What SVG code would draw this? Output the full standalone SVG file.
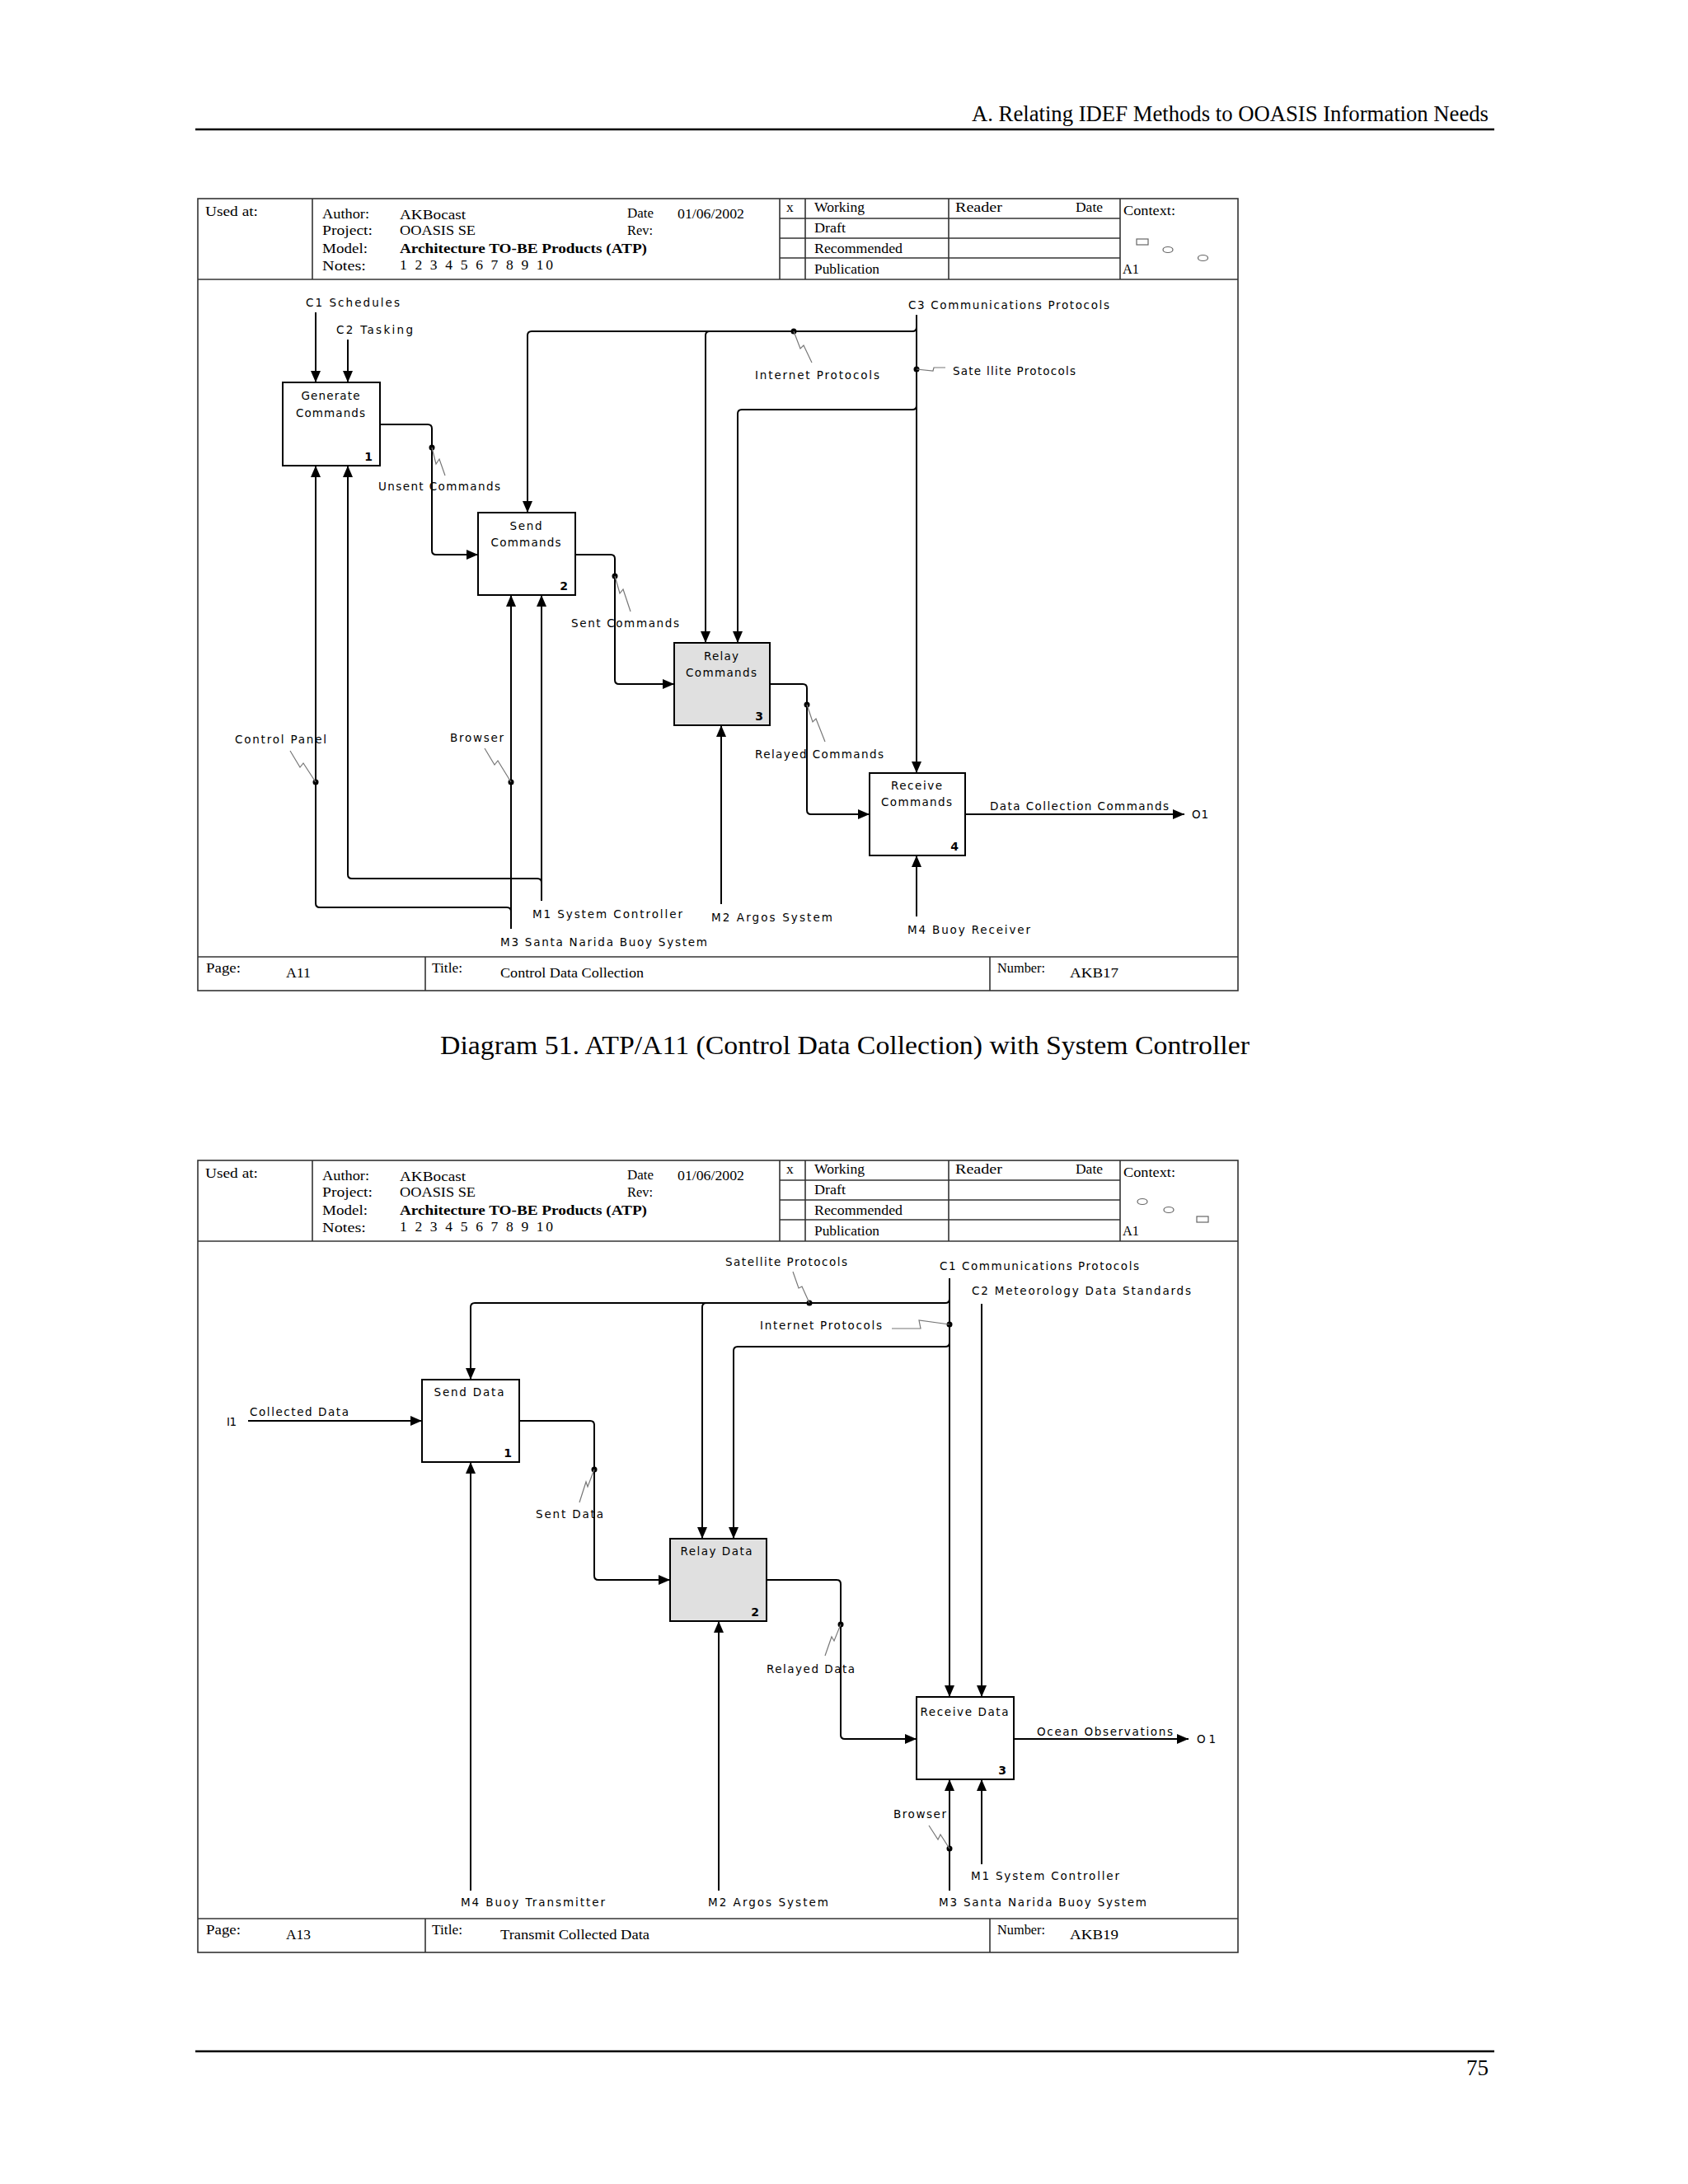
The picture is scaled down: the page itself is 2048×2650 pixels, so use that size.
<svg xmlns="http://www.w3.org/2000/svg" width="2048" height="2650" viewBox="0 0 2048 2650">
<style>
.page{fill:#fff}
.rule{stroke:#000;stroke-width:2.5}
.frame{fill:none;stroke:#333;stroke-width:1.6}
.hdr{font-family:"Liberation Serif","Times New Roman",serif;font-size:17.5px;fill:#000}
.hdrb{font-family:"Liberation Serif","Times New Roman",serif;font-size:17.5px;font-weight:bold;fill:#000}
.big{font-family:"Liberation Serif","Times New Roman",serif;font-size:27px;fill:#000}
.cap{font-family:"Liberation Serif","Times New Roman",serif;font-size:31px;fill:#000}
.lbl{font-family:"DejaVu Sans",Verdana,sans-serif;font-size:13.5px;fill:#000}
.ttl{font-family:"DejaVu Sans",Verdana,sans-serif;font-size:13.5px;fill:#000;text-anchor:middle}
.num{font-family:"DejaVu Sans",Verdana,sans-serif;font-size:14px;font-weight:bold;fill:#000;text-anchor:end}
.box{fill:#fff;stroke:#000;stroke-width:2}
.gray{fill:#e0e0e0;stroke:#000;stroke-width:2}
.conn{fill:none;stroke:#000;stroke-width:2;marker-end:url(#arr)}
.sq{fill:none;stroke:#777;stroke-width:1.2}
.dot{fill:#000}
.ctx{fill:#fff;stroke:#666;stroke-width:1.2}
</style>
<defs>
<marker id="arr" markerUnits="userSpaceOnUse" markerWidth="14" markerHeight="12" refX="14" refY="6" orient="auto">
<path d="M0,0 L14,6 L0,12 z" fill="#000"/>
</marker>
</defs>
<rect class="page" x="0" y="0" width="2048" height="2650"/>

<g id="page-header">
<text class="big" x="1806" y="147" text-anchor="end" textLength="627" lengthAdjust="spacingAndGlyphs">A. Relating IDEF Methods to OOASIS Information Needs</text>
<line class="rule" x1="237" y1="157" x2="1813" y2="157"/>
</g>
<g id="page-footer">
<line class="rule" x1="237" y1="2489" x2="1813" y2="2489"/>
<text class="big" x="1806" y="2518" text-anchor="end">75</text>
</g>
<g id="caption">
<text class="cap" x="534" y="1279" textLength="982" lengthAdjust="spacingAndGlyphs">Diagram 51. ATP/A11 (Control Data Collection) with System Controller</text>
</g>

<!-- ================= FRAME 1 ================= -->
<g id="frame1">
<rect class="frame" x="240" y="241" width="1262" height="961"/>
<line class="frame" x1="240" y1="339" x2="1502" y2="339"/>
<line class="frame" x1="240" y1="1161" x2="1502" y2="1161"/>
<line class="frame" x1="379" y1="241" x2="379" y2="339"/>
<line class="frame" x1="946" y1="241" x2="946" y2="339"/>
<line class="frame" x1="977" y1="241" x2="977" y2="339"/>
<line class="frame" x1="1151" y1="241" x2="1151" y2="339"/>
<line class="frame" x1="1359" y1="241" x2="1359" y2="339"/>
<line class="frame" x1="946" y1="265" x2="1359" y2="265"/>
<line class="frame" x1="946" y1="289" x2="1359" y2="289"/>
<line class="frame" x1="946" y1="313" x2="1359" y2="313"/>
<line class="frame" x1="516" y1="1161" x2="516" y2="1202"/>
<line class="frame" x1="1201" y1="1161" x2="1201" y2="1202"/>
<text class="hdr" x="249" y="262" textLength="64" lengthAdjust="spacingAndGlyphs">Used at:</text>
<text class="hdr" x="391" y="265" textLength="57" lengthAdjust="spacingAndGlyphs">Author:</text>
<text class="hdr" x="391" y="285" textLength="61" lengthAdjust="spacingAndGlyphs">Project:</text>
<text class="hdr" x="391" y="307" textLength="55" lengthAdjust="spacingAndGlyphs">Model:</text>
<text class="hdr" x="391" y="328" textLength="53" lengthAdjust="spacingAndGlyphs">Notes:</text>
<text class="hdr" x="485" y="266" textLength="80" lengthAdjust="spacingAndGlyphs">AKBocast</text>
<text class="hdr" x="485" y="285" textLength="92" lengthAdjust="spacingAndGlyphs">OOASIS SE</text>
<text class="hdrb" x="485" y="307" textLength="300" lengthAdjust="spacingAndGlyphs">Architecture TO-BE Products (ATP)</text>
<text class="hdr" x="485" y="327" textLength="186" lengthAdjust="spacing">1 2 3 4 5 6 7 8 9 10</text>
<text class="hdr" x="761" y="264" textLength="32" lengthAdjust="spacingAndGlyphs">Date</text>
<text class="hdr" x="822" y="265" textLength="81" lengthAdjust="spacingAndGlyphs">01/06/2002</text>
<text class="hdr" x="761" y="285" textLength="31" lengthAdjust="spacingAndGlyphs">Rev:</text>
<text class="hdr" x="954" y="257">x</text>
<text class="hdr" x="988" y="257" textLength="61" lengthAdjust="spacingAndGlyphs">Working</text>
<text class="hdr" x="988" y="282" textLength="38" lengthAdjust="spacingAndGlyphs">Draft</text>
<text class="hdr" x="988" y="307" textLength="107" lengthAdjust="spacingAndGlyphs">Recommended</text>
<text class="hdr" x="988" y="332" textLength="79" lengthAdjust="spacingAndGlyphs">Publication</text>
<text class="hdr" x="1159" y="257" textLength="57" lengthAdjust="spacingAndGlyphs">Reader</text>
<text class="hdr" x="1305" y="257" textLength="33" lengthAdjust="spacingAndGlyphs">Date</text>
<text class="hdr" x="1363" y="261" textLength="63" lengthAdjust="spacingAndGlyphs">Context:</text>
<rect class="ctx" x="1379" y="290" width="14" height="7"/>
<ellipse class="ctx" cx="1417" cy="303" rx="6" ry="3.5"/>
<ellipse class="ctx" cx="1459.5" cy="313" rx="6" ry="3.5"/>
<text class="hdr" x="1362" y="332" textLength="20" lengthAdjust="spacingAndGlyphs">A1</text>
<text class="hdr" x="250" y="1180" textLength="42" lengthAdjust="spacingAndGlyphs">Page:</text>
<text class="hdr" x="347" y="1186" textLength="30" lengthAdjust="spacingAndGlyphs">A11</text>
<text class="hdr" x="524" y="1180" textLength="37" lengthAdjust="spacingAndGlyphs">Title:</text>
<text class="hdr" x="607" y="1186" textLength="174" lengthAdjust="spacingAndGlyphs">Control Data Collection</text>
<text class="hdr" x="1210" y="1180" textLength="58" lengthAdjust="spacingAndGlyphs">Number:</text>
<text class="hdr" x="1298" y="1186" textLength="59" lengthAdjust="spacingAndGlyphs">AKB17</text>
</g>

<g id="d1-connectors">
<path class="conn" d="M383,379 V464"/>
<path class="conn" d="M422,412 V464"/>
<path class="conn" d="M461,515 H519 Q524,515 524,520 V668 Q524,673 529,673 H580"/>
<path class="conn" d="M698,673 H741 Q746,673 746,678 V825 Q746,830 751,830 H818"/>
<path class="conn" d="M934,830 H974 Q979,830 979,835 V983 Q979,988 984,988 H1055"/>
<path class="conn" d="M1112,382 V938"/>
<path class="conn" d="M1112,397 Q1112,402 1107,402 H645 Q640,402 640,407 V622"/>
<path class="conn" d="M861,402 Q856,402 856,407 V780"/>
<path class="conn" d="M1112,492 Q1112,497 1107,497 H900 Q895,497 895,502 V780"/>
<path class="conn" d="M1171,988 H1437"/>
<path class="conn" d="M1112,1112 V1038"/>
<path class="conn" d="M875,1097 V880"/>
<path class="conn" d="M657,1093 V722"/>
<path class="conn" d="M657,1071 Q657,1066 652,1066 H427 Q422,1066 422,1061 V565"/>
<path class="conn" d="M620,1127 V722"/>
<path class="conn" d="M620,1106 Q620,1101 615,1101 H388 Q383,1101 383,1096 V565"/>
<circle class="dot" cx="524" cy="543" r="3.5"/>
<circle class="dot" cx="746" cy="699" r="3.5"/>
<circle class="dot" cx="979" cy="855" r="3.5"/>
<circle class="dot" cx="963" cy="402" r="3.5"/>
<circle class="dot" cx="1112" cy="448" r="3.5"/>
<circle class="dot" cx="383" cy="949" r="3.5"/>
<circle class="dot" cx="620" cy="949" r="3.5"/>
<polyline class="sq" points="524,543 529,563 533,557 540,577"/>
<polyline class="sq" points="746,699 752,720 756,715 765,742"/>
<polyline class="sq" points="979,855 986,876 990,872 1001,900"/>
<polyline class="sq" points="963,402 971,423 975,419 985,440"/>
<polyline class="sq" points="1112,448 1132,450 1133,446 1147,446"/>
<polyline class="sq" points="352,911 364,931 368,926 383,949"/>
<polyline class="sq" points="588,908 600,928 604,923 620,949"/>
<text class="lbl" x="371" y="372" textLength="114" lengthAdjust="spacing">C1 Schedules</text>
<text class="lbl" x="408" y="405" textLength="93" lengthAdjust="spacing">C2 Tasking</text>
<text class="lbl" x="459" y="595" textLength="148" lengthAdjust="spacing">Unsent Commands</text>
<text class="lbl" x="693" y="761" textLength="131" lengthAdjust="spacing">Sent Commands</text>
<text class="lbl" x="916" y="460" textLength="151" lengthAdjust="spacing">Internet Protocols</text>
<text class="lbl" x="1156" y="455" textLength="149" lengthAdjust="spacing">Sate llite Protocols</text>
<text class="lbl" x="1102" y="375" textLength="244" lengthAdjust="spacing">C3 Communications Protocols</text>
<text class="lbl" x="916" y="920" textLength="156" lengthAdjust="spacing">Relayed Commands</text>
<text class="lbl" x="1201" y="983" textLength="217" lengthAdjust="spacing">Data Collection Commands</text>
<text class="lbl" x="1446" y="993" textLength="20" lengthAdjust="spacing">O1</text>
<text class="lbl" x="285" y="902" textLength="111" lengthAdjust="spacing">Control Panel</text>
<text class="lbl" x="546" y="900" textLength="65" lengthAdjust="spacing">Browser</text>
<text class="lbl" x="646" y="1114" textLength="182" lengthAdjust="spacing">M1 System Controller</text>
<text class="lbl" x="863" y="1118" textLength="147" lengthAdjust="spacing">M2 Argos System</text>
<text class="lbl" x="1101" y="1133" textLength="149" lengthAdjust="spacing">M4 Buoy Receiver</text>
<text class="lbl" x="607" y="1148" textLength="251" lengthAdjust="spacing">M3 Santa Narida Buoy System</text>
</g>

<g id="d1-node1">
<rect class="box" x="343" y="464" width="118" height="101"/>
<text class="ttl" x="401" y="485" textLength="71" lengthAdjust="spacing">Generate</text>
<text class="ttl" x="401" y="506" textLength="84" lengthAdjust="spacing">Commands</text>
<text class="num" x="452" y="559">1</text>
</g>
<g id="d1-node2">
<rect class="box" x="580" y="622" width="118" height="100"/>
<text class="ttl" x="638" y="643" textLength="39" lengthAdjust="spacing">Send</text>
<text class="ttl" x="638" y="663" textLength="85" lengthAdjust="spacing">Commands</text>
<text class="num" x="689" y="716">2</text>
</g>
<g id="d1-node3">
<rect class="gray" x="818" y="780" width="116" height="100"/>
<text class="ttl" x="875" y="801" textLength="42" lengthAdjust="spacing">Relay</text>
<text class="ttl" x="875" y="821" textLength="86" lengthAdjust="spacing">Commands</text>
<text class="num" x="926" y="874">3</text>
</g>
<g id="d1-node4">
<rect class="box" x="1055" y="938" width="116" height="100"/>
<text class="ttl" x="1112" y="958" textLength="62" lengthAdjust="spacing">Receive</text>
<text class="ttl" x="1112" y="978" textLength="86" lengthAdjust="spacing">Commands</text>
<text class="num" x="1163" y="1032">4</text>
</g>

<!-- ================= FRAME 2 ================= -->
<g id="frame2">
<rect class="frame" x="240" y="1408" width="1262" height="961"/>
<line class="frame" x1="240" y1="1506" x2="1502" y2="1506"/>
<line class="frame" x1="240" y1="2328" x2="1502" y2="2328"/>
<line class="frame" x1="379" y1="1408" x2="379" y2="1506"/>
<line class="frame" x1="946" y1="1408" x2="946" y2="1506"/>
<line class="frame" x1="977" y1="1408" x2="977" y2="1506"/>
<line class="frame" x1="1151" y1="1408" x2="1151" y2="1506"/>
<line class="frame" x1="1359" y1="1408" x2="1359" y2="1506"/>
<line class="frame" x1="946" y1="1432" x2="1359" y2="1432"/>
<line class="frame" x1="946" y1="1456" x2="1359" y2="1456"/>
<line class="frame" x1="946" y1="1480" x2="1359" y2="1480"/>
<line class="frame" x1="516" y1="2328" x2="516" y2="2369"/>
<line class="frame" x1="1201" y1="2328" x2="1201" y2="2369"/>
<text class="hdr" x="249" y="1429" textLength="64" lengthAdjust="spacingAndGlyphs">Used at:</text>
<text class="hdr" x="391" y="1432" textLength="57" lengthAdjust="spacingAndGlyphs">Author:</text>
<text class="hdr" x="391" y="1452" textLength="61" lengthAdjust="spacingAndGlyphs">Project:</text>
<text class="hdr" x="391" y="1474" textLength="55" lengthAdjust="spacingAndGlyphs">Model:</text>
<text class="hdr" x="391" y="1495" textLength="53" lengthAdjust="spacingAndGlyphs">Notes:</text>
<text class="hdr" x="485" y="1433" textLength="80" lengthAdjust="spacingAndGlyphs">AKBocast</text>
<text class="hdr" x="485" y="1452" textLength="92" lengthAdjust="spacingAndGlyphs">OOASIS SE</text>
<text class="hdrb" x="485" y="1474" textLength="300" lengthAdjust="spacingAndGlyphs">Architecture TO-BE Products (ATP)</text>
<text class="hdr" x="485" y="1494" textLength="186" lengthAdjust="spacing">1 2 3 4 5 6 7 8 9 10</text>
<text class="hdr" x="761" y="1431" textLength="32" lengthAdjust="spacingAndGlyphs">Date</text>
<text class="hdr" x="822" y="1432" textLength="81" lengthAdjust="spacingAndGlyphs">01/06/2002</text>
<text class="hdr" x="761" y="1452" textLength="31" lengthAdjust="spacingAndGlyphs">Rev:</text>
<text class="hdr" x="954" y="1424">x</text>
<text class="hdr" x="988" y="1424" textLength="61" lengthAdjust="spacingAndGlyphs">Working</text>
<text class="hdr" x="988" y="1449" textLength="38" lengthAdjust="spacingAndGlyphs">Draft</text>
<text class="hdr" x="988" y="1474" textLength="107" lengthAdjust="spacingAndGlyphs">Recommended</text>
<text class="hdr" x="988" y="1499" textLength="79" lengthAdjust="spacingAndGlyphs">Publication</text>
<text class="hdr" x="1159" y="1424" textLength="57" lengthAdjust="spacingAndGlyphs">Reader</text>
<text class="hdr" x="1305" y="1424" textLength="33" lengthAdjust="spacingAndGlyphs">Date</text>
<text class="hdr" x="1363" y="1428" textLength="63" lengthAdjust="spacingAndGlyphs">Context:</text>
<ellipse class="ctx" cx="1386" cy="1458" rx="6" ry="3.5"/>
<ellipse class="ctx" cx="1418" cy="1468" rx="6" ry="3.5"/>
<rect class="ctx" x="1452" y="1476" width="14" height="7"/>
<text class="hdr" x="1362" y="1499" textLength="20" lengthAdjust="spacingAndGlyphs">A1</text>
<text class="hdr" x="250" y="2347" textLength="42" lengthAdjust="spacingAndGlyphs">Page:</text>
<text class="hdr" x="347" y="2353" textLength="30" lengthAdjust="spacingAndGlyphs">A13</text>
<text class="hdr" x="524" y="2347" textLength="37" lengthAdjust="spacingAndGlyphs">Title:</text>
<text class="hdr" x="607" y="2353" textLength="181" lengthAdjust="spacingAndGlyphs">Transmit Collected Data</text>
<text class="hdr" x="1210" y="2347" textLength="58" lengthAdjust="spacingAndGlyphs">Number:</text>
<text class="hdr" x="1298" y="2353" textLength="59" lengthAdjust="spacingAndGlyphs">AKB19</text>
</g>

<g id="d2-connectors">
<path class="conn" d="M301,1724 H512"/>
<path class="conn" d="M630,1724 H716 Q721,1724 721,1729 V1912 Q721,1917 726,1917 H813"/>
<path class="conn" d="M930,1917 H1015 Q1020,1917 1020,1922 V2105 Q1020,2110 1025,2110 H1112"/>
<path class="conn" d="M1152,1551 V2059"/>
<path class="conn" d="M1152,1576 Q1152,1581 1147,1581 H576 Q571,1581 571,1586 V1674"/>
<path class="conn" d="M857,1581 Q852,1581 852,1586 V1867"/>
<path class="conn" d="M1152,1629 Q1152,1634 1147,1634 H895 Q890,1634 890,1639 V1867"/>
<path class="conn" d="M1191,1582 V2059"/>
<path class="conn" d="M1230,2110 H1442"/>
<path class="conn" d="M571,2294 V1774"/>
<path class="conn" d="M872,2294 V1967"/>
<path class="conn" d="M1152,2294 V2159"/>
<path class="conn" d="M1191,2262 V2159"/>
<circle class="dot" cx="982" cy="1581" r="3.5"/>
<circle class="dot" cx="1152" cy="1607" r="3.5"/>
<circle class="dot" cx="721" cy="1783" r="3.5"/>
<circle class="dot" cx="1020" cy="1971" r="3.5"/>
<circle class="dot" cx="1152" cy="2243" r="3.5"/>
<polyline class="sq" points="982,1581 973,1561 969,1563 962,1543"/>
<polyline class="sq" points="1152,1607 1115,1602 1117,1612 1082,1612"/>
<polyline class="sq" points="721,1783 713,1804 711,1798 703,1823"/>
<polyline class="sq" points="1020,1971 1012,1991 1009,1986 1001,2009"/>
<polyline class="sq" points="1127,2215 1138,2232 1141,2226 1152,2243"/>
<text class="lbl" x="880" y="1536" textLength="148" lengthAdjust="spacing">Satellite Protocols</text>
<text class="lbl" x="1140" y="1541" textLength="242" lengthAdjust="spacing">C1 Communications Protocols</text>
<text class="lbl" x="1179" y="1571" textLength="266" lengthAdjust="spacing">C2 Meteorology Data Standards</text>
<text class="lbl" x="922" y="1613" textLength="148" lengthAdjust="spacing">Internet Protocols</text>
<text class="lbl" x="275" y="1730" textLength="12" lengthAdjust="spacing">I1</text>
<text class="lbl" x="303" y="1718" textLength="120" lengthAdjust="spacing">Collected Data</text>
<text class="lbl" x="650" y="1842" textLength="82" lengthAdjust="spacing">Sent Data</text>
<text class="lbl" x="930" y="2030" textLength="107" lengthAdjust="spacing">Relayed Data</text>
<text class="lbl" x="1258" y="2106" textLength="165" lengthAdjust="spacing">Ocean Observations</text>
<text class="lbl" x="1452" y="2115" textLength="23" lengthAdjust="spacing">O1</text>
<text class="lbl" x="1084" y="2206" textLength="64" lengthAdjust="spacing">Browser</text>
<text class="lbl" x="1178" y="2281" textLength="180" lengthAdjust="spacing">M1 System Controller</text>
<text class="lbl" x="1139" y="2313" textLength="252" lengthAdjust="spacing">M3 Santa Narida Buoy System</text>
<text class="lbl" x="559" y="2313" textLength="175" lengthAdjust="spacing">M4 Buoy Transmitter</text>
<text class="lbl" x="859" y="2313" textLength="146" lengthAdjust="spacing">M2 Argos System</text>
</g>

<g id="d2-node1">
<rect class="box" x="512" y="1674" width="118" height="100"/>
<text class="ttl" x="569" y="1694" textLength="85" lengthAdjust="spacing">Send Data</text>
<text class="num" x="621" y="1768">1</text>
</g>
<g id="d2-node2">
<rect class="gray" x="813" y="1867" width="117" height="100"/>
<text class="ttl" x="869" y="1887" textLength="87" lengthAdjust="spacing">Relay Data</text>
<text class="num" x="921" y="1961">2</text>
</g>
<g id="d2-node3">
<rect class="box" x="1112" y="2059" width="118" height="100"/>
<text class="ttl" x="1170" y="2082" textLength="107" lengthAdjust="spacing">Receive Data</text>
<text class="num" x="1221" y="2153">3</text>
</g>
</svg>
